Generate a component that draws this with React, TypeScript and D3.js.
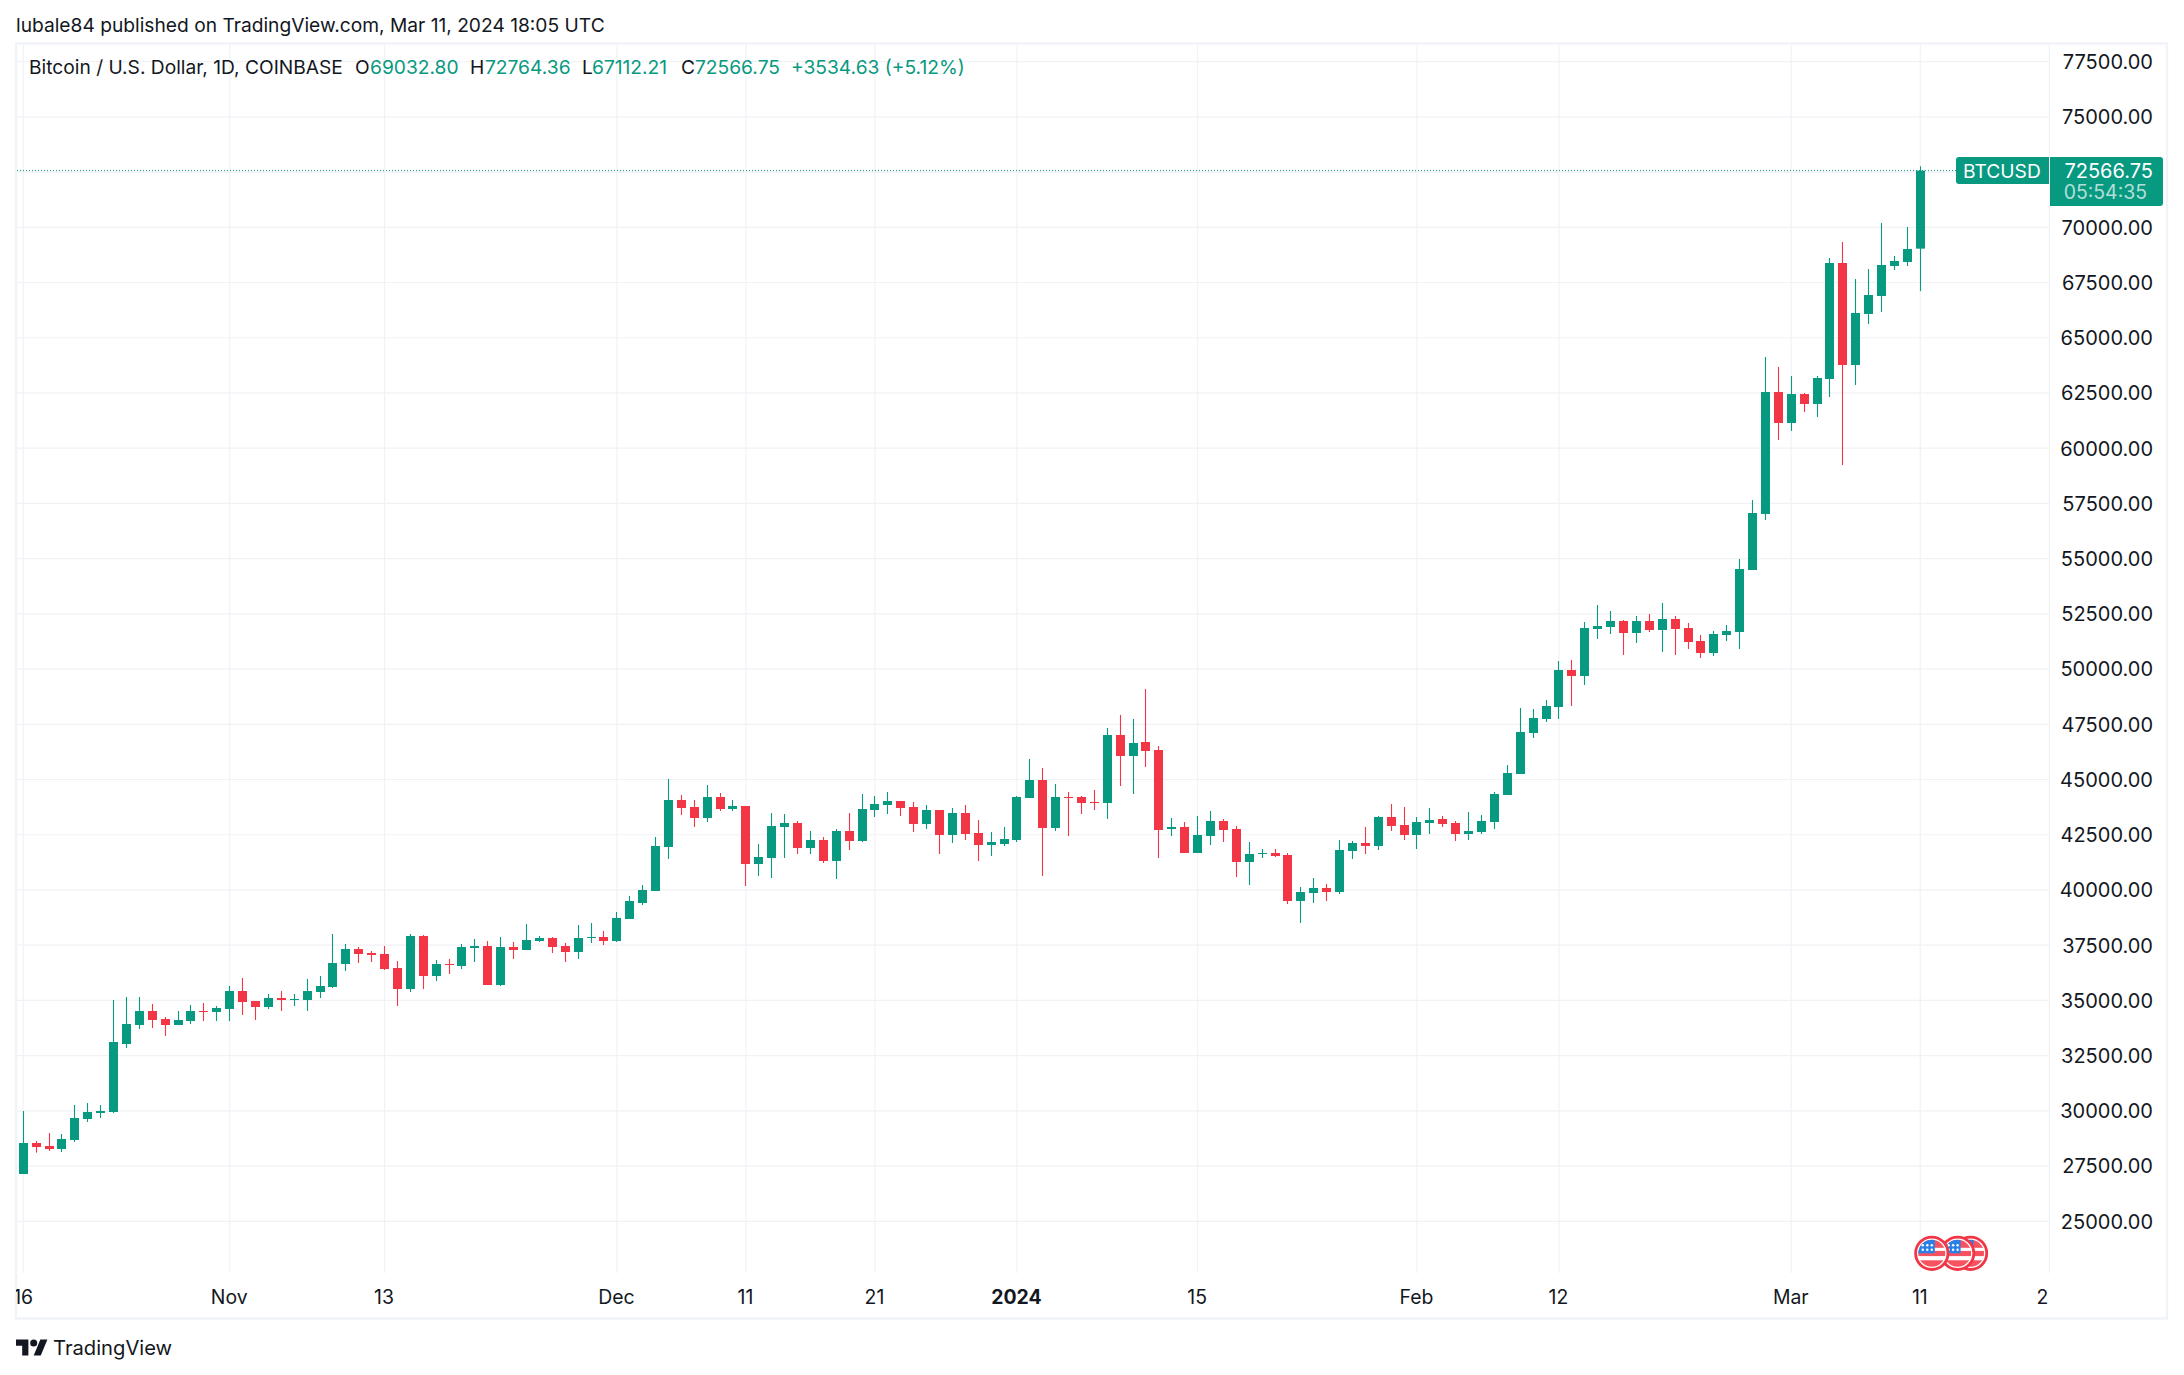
import React, { useEffect, useRef } from 'react';
import * as d3 from 'd3';

const opens = [
  27142, 28545, 28409, 28273, 28681, 29631, 29903, 29948, 33027, 33887,
  34521, 34158, 33887, 34068, 34521, 34475, 34611, 35426, 34973, 34702,
  35109, 35019, 35019, 35381, 35607, 36648, 37327, 37146, 37101, 36467,
  35516, 37916, 36105, 36648, 36558, 37373, 37463, 35698, 37418, 37282,
  37689, 37825, 37463, 37192, 37826, 37871, 37690, 38686, 39410, 39953,
  41945, 44073, 43756, 43258, 44209, 43665, 43801, 41176, 41447, 42851,
  43032, 41900, 42262, 41311, 42669, 42217, 43620, 43846, 44028, 43756,
  42986, 43620, 42488, 43484, 42579, 42036, 42081, 42262, 44163, 44978,
  42805, 44209, 44209, 43983, 43937, 47016, 46065, 46699, 46337, 42760,
  42851, 41674, 42443, 43123, 42760, 41266, 41629, 41674, 41583, 39501,
  39863, 40089, 39908, 41765, 42127, 41991, 43304, 42941, 42489, 43032,
  43213, 43032, 42534, 42625, 43077, 44299, 45250, 47106, 47740, 48283,
  49958, 49686, 51814, 51905, 52176, 51633, 52176, 51769, 52267, 51859,
  51271, 50727, 51542, 51678, 54485, 57020, 62543, 61140, 62452, 62000,
  63133, 68384, 63767, 66076, 66891, 68249, 68430, 69032.8,
];
const highs = [
  29994, 28635, 28998, 28952, 30265, 30356, 30265, 35019, 35154, 35154,
  34837, 34249, 34521, 34792, 34883, 34747, 35652, 36014, 34973, 35290,
  35426, 35290, 35969, 36105, 38006, 37554, 37418, 37237, 37463, 36784,
  38006, 37961, 36829, 36875, 37554, 37780, 37689, 37871, 37644, 38459,
  37916, 37871, 37599, 38414, 38505, 38142, 39003, 39727, 40225, 42398,
  45023, 44299, 44073, 44752, 44390, 44073, 43801, 42081, 43484, 43439,
  43122, 42669, 42398, 42760, 43484, 44344, 44254, 44435, 44028, 43982,
  43846, 43620, 43711, 43846, 43167, 42624, 42851, 44254, 45929, 45521,
  44797, 44435, 44254, 44526, 47333, 47921, 47740, 49098, 46518, 43258,
  43077, 43349, 43575, 43213, 42896, 42172, 41855, 41855, 41674, 40135,
  40542, 40271, 42262, 42217, 42851, 43349, 43892, 43756, 43304, 43711,
  43349, 43123, 43530, 43394, 44435, 45658, 48238, 48193, 48600, 50365,
  50411, 52131, 52900, 52629, 52221, 52402, 52493, 52991, 52402, 52086,
  51542, 51723, 51995, 54983, 57654, 64127, 63675, 63267, 62498, 63267,
  68611, 69335, 67660, 68113, 70195, 68701, 70014, 72764.36,
];
const lows = [
  27142, 28107, 28183, 28137, 28590, 29496, 29677, 29903, 32846, 33706,
  33751, 33389, 33887, 33932, 34068, 34068, 34068, 34339, 34113, 34611,
  34521, 34747, 34521, 35109, 35562, 36331, 36693, 36739, 36377, 34747,
  35381, 35516, 35879, 36196, 36422, 36739, 35698, 35652, 36875, 37282,
  37644, 37146, 36739, 36875, 37599, 37509, 37644, 38686, 39319, 39953,
  41402, 43394, 42851, 43077, 43575, 43575, 40180, 40632, 40542, 41447,
  41628, 41628, 41221, 40496, 41809, 42171, 43303, 43439, 43348, 42624,
  42760, 41628, 42126, 42262, 41311, 41538, 41990, 42171, 44163, 40632,
  42669, 42443, 43439, 43621, 43213, 44707, 44345, 45567, 41448, 42443,
  41674, 41674, 42036, 42172, 40587, 40225, 41448, 41493, 39365, 38505,
  39410, 39501, 39818, 41402, 41629, 41810, 42670, 42262, 41855, 42534,
  42851, 42217, 42262, 42534, 42760, 44299, 45250, 46880, 47604, 47740,
  48328, 49279, 51361, 51588, 50637, 51180, 51678, 50773, 50637, 50909,
  50501, 50592, 51271, 50909, 54485, 56748, 60370, 60777, 61638, 61411,
  62317, 59238, 62862, 65623, 66166, 68068, 68249, 67112.21,
];
const closes = [
  28545, 28364, 28273, 28726, 29677, 29948, 29994, 33117, 33932, 34521,
  34113, 33887, 34113, 34521, 34475, 34656, 35426, 34928, 34702, 35109,
  35019, 35064, 35426, 35652, 36693, 37327, 37101, 37056, 36422, 35516,
  37916, 36105, 36648, 36603, 37418, 37463, 35698, 37418, 37282, 37735,
  37825, 37418, 37192, 37826, 37871, 37690, 38731, 39501, 39999, 41990,
  44073, 43711, 43258, 44209, 43665, 43801, 41176, 41492, 42896, 43032,
  41900, 42262, 41311, 42669, 42217, 43665, 43892, 44028, 43711, 42986,
  43620, 42488, 43484, 42534, 42036, 42171, 42307, 44209, 44978, 42805,
  44209, 44163, 43937, 43937, 47016, 46065, 46654, 46291, 42715, 42851,
  41674, 42489, 43123, 42715, 41266, 41629, 41674, 41538, 39501, 39908,
  40089, 39908, 41810, 42127, 41991, 43304, 42896, 42489, 43077, 43168,
  42987, 42534, 42670, 43123, 44345, 45295, 47151, 47785, 48328, 49958,
  49686, 51859, 51950, 52176, 51633, 52176, 51769, 52267, 51814, 51225,
  50727, 51588, 51723, 54530, 57065, 62543, 61140, 62452, 62000, 63177,
  68384, 63767, 66121, 66936, 68294, 68475, 69018, 72566.75,
];

const priceTicks = [25000, 27500, 30000, 32500, 35000, 37500, 40000, 42500, 45000, 47500, 50000, 52500, 55000, 57500, 60000, 62500, 65000, 67500, 70000, 72500, 75000, 77500];
const hiddenPriceLabels = [72500];
const timeTickIndex = [0, 16, 28, 46, 56, 66, 77, 91, 108, 119, 137, 147, 157];
const timeTickLabels = ['16', 'Nov', '13', 'Dec', '11', '21', '2024', '15', 'Feb', '12', 'Mar', '11', '2'];
const eventIndex = [151, 150, 148];

const lastPrice = 72566.75;
const green = '#089981';
const red = '#f23645';
const gridColor = '#f1f2f6';
const borderColor = '#f0f3fa';
const textColor = '#131722';
const font = 'Inter, sans-serif';

export default function App() {
  const svgRef = useRef<SVGSVGElement>(null);

  useEffect(() => {
    if (!svgRef.current) return;
    const svg = d3.select(svgRef.current);
    svg.selectAll('*').remove();

    const plot = { left: 17, right: 2049, top: 45, bottom: 1273 };
    const x = d3.scaleLinear().domain([0, 147]).range([23.2, 1920.3]);
    const y = d3.scaleLinear().domain([25000, 70000]).range([1221.3, 227.3]);

    const defs = svg.append('defs');
    defs.append('clipPath').attr('id', 'frame')
      .append('rect').attr('x', 16).attr('y', 44).attr('width', 2151).attr('height', 1274);

    // Header
    svg.append('text')
      .attr('x', 16).attr('y', 32)
      .attr('font-size', 19.2).attr('fill', textColor)
      .text('lubale84 published on TradingView.com, Mar 11, 2024 18:05 UTC');

    // Grid lines
    const grid = svg.append('g').attr('stroke', gridColor).attr('stroke-width', 1.2);
    grid.selectAll('.h').data(priceTicks).enter().append('line')
      .attr('x1', plot.left).attr('x2', plot.right)
      .attr('y1', d => y(d)).attr('y2', d => y(d));
    grid.selectAll('.v').data(timeTickIndex).enter().append('line')
      .attr('x1', d => x(d)).attr('x2', d => x(d))
      .attr('y1', plot.top).attr('y2', plot.bottom);

    // Frame
    svg.append('rect')
      .attr('x', 16).attr('y', 43.5).attr('width', 2151).attr('height', 1275)
      .attr('fill', 'none').attr('stroke', borderColor).attr('stroke-width', 2.4);

    // Price line
    svg.append('line')
      .attr('x1', plot.left).attr('x2', 1956)
      .attr('y1', y(lastPrice)).attr('y2', y(lastPrice))
      .attr('stroke', green).attr('stroke-width', 1).attr('stroke-dasharray', '1 2');

    // Candles
    const candles = svg.append('g').selectAll('.candle')
      .data(d3.range(opens.length))
      .enter().append('g').attr('class', 'candle');

    candles.append('line')
      .attr('x1', i => Math.round(x(i) - 0.5) + 0.5)
      .attr('x2', i => Math.round(x(i) - 0.5) + 0.5)
      .attr('y1', i => y(highs[i]))
      .attr('y2', i => y(lows[i]))
      .attr('stroke', i => closes[i] >= opens[i] ? green : red)
      .attr('stroke-width', 1.1);

    candles.append('rect')
      .attr('x', i => Math.round(x(i) - 0.5) - 4)
      .attr('width', 9)
      .attr('y', i => y(Math.max(opens[i], closes[i])))
      .attr('height', i => Math.max(1, Math.abs(y(opens[i]) - y(closes[i]))))
      .attr('fill', i => closes[i] >= opens[i] ? green : red);

    // Legend
    const legend = svg.append('text').attr('y', 74).attr('font-size', 19.2);
    const legendParts: [number, string, string][] = [
      [29, 'Bitcoin / U.S. Dollar, 1D, COINBASE', textColor],
      [355, 'O', textColor], [370, '69032.80', green],
      [470, 'H', textColor], [485, '72764.36', green],
      [582, 'L', textColor], [592, '67112.21', green],
      [681, 'C', textColor], [695, '72566.75', green],
      [791, '+3534.63 (+5.12%)', green],
    ];
    legendParts.forEach(([px, label, color]) => {
      legend.append('tspan').attr('x', px).attr('fill', color).text(label);
    });

    // Price axis labels
    svg.append('g').selectAll('text')
      .data(priceTicks.filter(d => !hiddenPriceLabels.includes(d)))
      .enter().append('text')
      .attr('x', 2153).attr('y', d => y(d) + 7.4)
      .attr('text-anchor', 'end')
      .attr('font-size', 20).attr('fill', textColor)
      .text(d => d3.format('.2f')(d));

    // Time axis labels
    svg.append('g').attr('clip-path', 'url(#frame)').selectAll('text')
      .data(timeTickIndex)
      .enter().append('text')
      .attr('x', (d, i) => i === timeTickIndex.length - 1 ? x(d) - 7 : x(d) + (i === 0 ? 0 : -0.5))
      .attr('y', 1304)
      .attr('text-anchor', 'middle')
      .attr('font-size', 19.4)
      .attr('font-weight', (d, i) => timeTickLabels[i] === '2024' ? 700 : 400)
      .attr('fill', textColor)
      .text((d, i) => timeTickLabels[i]);

    // Symbol and last price tags
    svg.append('path')
      .attr('d', 'M2049 157H1959a3 3 0 0 0-3 3V181a3 3 0 0 0 3 3H2049Z')
      .attr('fill', green);
    svg.append('path')
      .attr('d', 'M2050 157H2160a3 3 0 0 1 3 3V203a3 3 0 0 1-3 3H2050Z')
      .attr('fill', green);
    svg.append('text')
      .attr('x', 1963).attr('y', 177.5)
      .attr('font-size', 19.2).attr('fill', '#fff')
      .text('BTCUSD');
    svg.append('text')
      .attr('x', 2153).attr('y', y(lastPrice) + 7)
      .attr('text-anchor', 'end')
      .attr('font-size', 20).attr('fill', '#fff')
      .text(lastPrice.toFixed(2));
    svg.append('text')
      .attr('x', 2147).attr('y', 199)
      .attr('text-anchor', 'end')
      .attr('font-size', 19.4).attr('fill', '#fff').attr('fill-opacity', 0.7)
      .text('05:54:35');

    // Economic event flags
    eventIndex.forEach((idx, n) => {
      const id = `flag${n}`;
      defs.append('clipPath').attr('id', id).append('circle').attr('r', 13.5);
      const g = svg.append('g').attr('transform', `translate(${x(idx) - 1.4},1253.3)`);
      g.append('circle').attr('r', 16.2).attr('fill', '#fff').attr('stroke', red).attr('stroke-width', 2.8);
      const f = g.append('g').attr('clip-path', `url(#${id})`);
      f.append('rect').attr('x', -14).attr('y', -14).attr('width', 28).attr('height', 28).attr('fill', '#fff');
      [[-14, 8.5], [-2.4, 5.2], [7, 7]].forEach(([top, h]) => {
        f.append('rect').attr('x', -14).attr('y', top).attr('width', 28).attr('height', h).attr('fill', '#f7525f');
      });
      f.append('rect').attr('x', -14).attr('y', -14).attr('width', 17).attr('height', 14).attr('fill', '#2b80e8');
      [-8, -3.5].forEach(sy => {
        [-9, -4.5, 0].forEach(sx => {
          f.append('circle').attr('cx', sx).attr('cy', sy).attr('r', 1.2).attr('fill', '#fff');
        });
      });
    });

    // TradingView logo
    svg.append('path')
      .attr('transform', 'translate(16,1336) scale(0.885)')
      .attr('d', 'M14 22H7V11H0V4h14v18zM28 22h-8l7.5-18h8L28 22z')
      .attr('fill', textColor);
    svg.append('circle')
      .attr('transform', 'translate(16,1336) scale(0.885)')
      .attr('cx', 20).attr('cy', 8).attr('r', 4)
      .attr('fill', textColor);
    svg.append('text')
      .attr('x', 53).attr('y', 1355)
      .attr('font-size', 20.2).attr('fill', textColor)
      .text('TradingView');
  }, []);

  return (
    <svg
      ref={svgRef}
      width={2184}
      height={1375}
      style={{ position: 'absolute', left: 0, top: 0, display: 'block', fontFamily: font, background: '#fff' }}
    />
  );
}
